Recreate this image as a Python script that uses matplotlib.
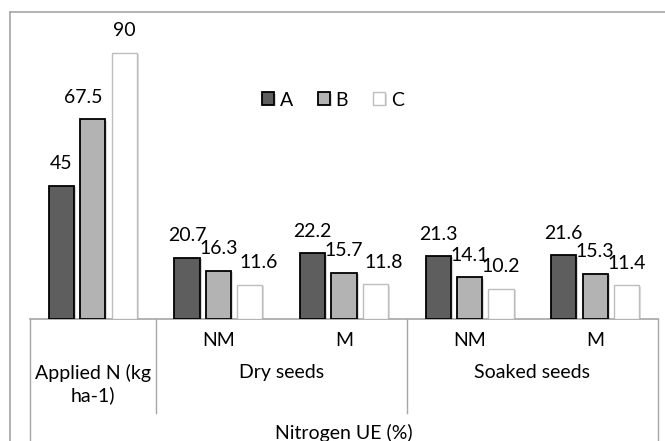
import numpy as np
import matplotlib
matplotlib.use("Agg")
import matplotlib.pyplot as plt
import matplotlib.transforms as mtransforms
import matplotlib.patheffects as pe
from matplotlib.lines import Line2D

# data
groups = ["", "NM", "M", "NM", "M"]
parents = ["Applied N (kg\nha-1)", "Dry seeds", "Soaked seeds"]
parent_span = [(0, 0), (1, 2), (3, 4)]
series = ["A", "B", "C"]
vals_a = [45, 20.7, 22.2, 21.3, 21.6]
vals_b = [67.5, 16.3, 15.7, 14.1, 15.3]
vals_c = [90, 11.6, 11.8, 10.2, 11.4]
axis_title = "Nitrogen UE (%)"

plt.rcParams['font.family'] = ['Lato', 'DejaVu Sans']
FS = 14
W, H = 665, 441
fig = plt.figure(figsize=(W / 100, H / 100), dpi=100)

# axes placed in pixel terms so the category table lines up
base_px, top_px = 319, 23.4
ax = fig.add_axes([30 / W, (H - base_px) / H, 628 / W, (base_px - top_px) / H])
ax.set_xlim(-0.5, 4.5)
ax.set_ylim(0, 100)
for s in ["left", "right", "top"]:
    ax.spines[s].set_visible(False)
ax.spines["bottom"].set_color("#a6a6a6")
ax.spines["bottom"].set_linewidth(1.2)
ax.set_xticks([])
ax.set_yticks([])

x = np.arange(len(groups))
fills = ["#5e5e5e", "#b3b3b3", "#ffffff"]
edges = ["#000000", "#000000", "#bdbdbd"]
shadow = [pe.SimplePatchShadow(offset=(1.5, -1), alpha=0.18), pe.Normal()]

# px nudges for a few labels that Excel moved sideways
nudge = {(1, 0): -10, (2, 1): 9, (2, 2): 8}

for i, (vals, name) in enumerate(zip([vals_a, vals_b, vals_c], series)):
    bars = ax.bar(x + (i - 1) * 0.25, vals, width=0.2, color=fills[i],
                  edgecolor=edges[i], linewidth=1.3 if i < 2 else 1.0,
                  label=name, zorder=3)
    for b in bars:
        b.set_path_effects(shadow)
    for j, b in enumerate(bars):
        dx = nudge.get((i, j), 0)
        ax.annotate(f"{vals[j]:g}", (b.get_x() + b.get_width() / 2, b.get_height()),
                    xytext=(dx * 0.72, 22 * 0.72), textcoords="offset points",
                    ha="center", va="center", fontsize=FS, color="black")

leg = fig.legend(loc="center", bbox_to_anchor=(333 / W, 1 - 100 / H), ncol=3,
                 frameon=False, fontsize=FS, handlelength=0.6, handleheight=0.6,
                 handletextpad=0.3, columnspacing=1.3)

# category table below the axis
line_kw = dict(color="#a6a6a6", linewidth=1.0, clip_on=False)
xfig = mtransforms.blended_transform_factory(ax.transData, fig.transFigure)

def fy(px):
    return 1 - px / H

for bx in [-0.5, 4.5]:
    ax.add_line(Line2D([bx, bx], [fy(base_px), fy(H)], transform=xfig, **line_kw))
for bx in [0.5, 2.5]:
    ax.add_line(Line2D([bx, bx], [fy(base_px), fy(413)], transform=xfig, **line_kw))

for j, g in enumerate(groups):
    if g:
        ax.text(j, fy(340), g, transform=xfig, ha="center", va="center",
                fontsize=FS)
for p, (a, b) in zip(parents, parent_span):
    ax.text((a + b) / 2, fy(364), p, transform=xfig, ha="center", va="top",
            fontsize=FS, linespacing=1.3)
ax.text(2, fy(433), axis_title, transform=xfig, ha="center", va="center",
        fontsize=FS)

# outer chart frame (cropped on the right and bottom)
fig.add_artist(Line2D([10 / W, 10 / W], [fy(12), 0], transform=fig.transFigure,
                      color="#a6a6a6", linewidth=1.2))
fig.add_artist(Line2D([10 / W, 1], [fy(12), fy(12)], transform=fig.transFigure,
                      color="#a6a6a6", linewidth=1.2))

fig.savefig("out.png", dpi=100)
